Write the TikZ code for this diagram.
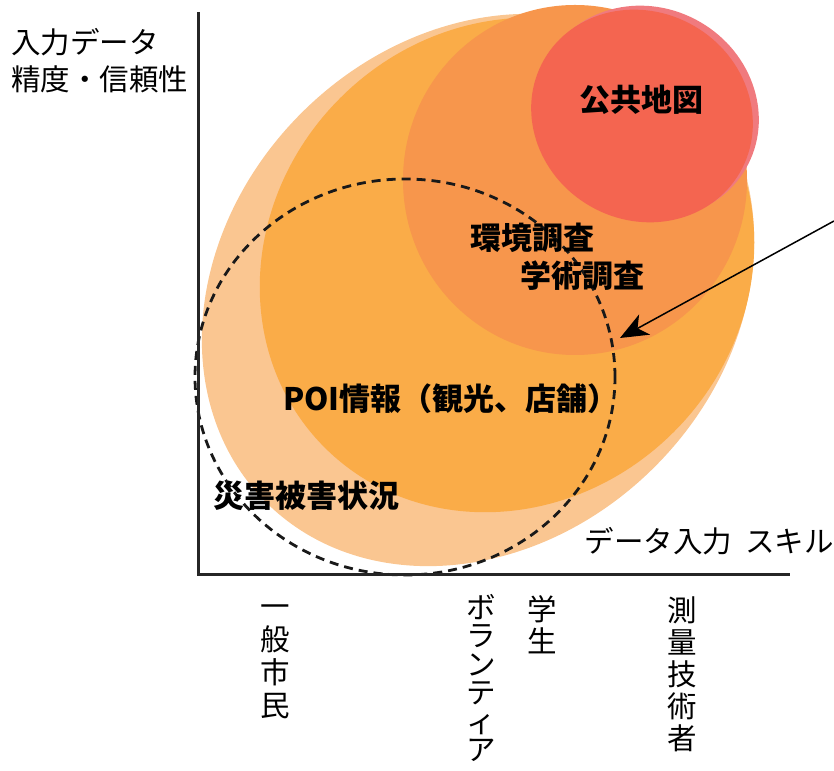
\documentclass[tikz,border=0pt]{standalone}
\usepackage{fontspec}
\setmainfont{Noto Sans CJK JP}
\usetikzlibrary{arrows.meta}

\definecolor{peach}{RGB}{250,198,145}
\definecolor{amber}{RGB}{250,172,72}
\definecolor{tangerine}{RGB}{247,150,76}
\definecolor{vermilion}{RGB}{244,101,80}
\definecolor{rose}{RGB}{240,122,126}

\begin{document}
\begin{tikzpicture}[
    x=1pt, y=1pt,
    zone/.style={font=\bfseries\fontsize{31}{31}\selectfont, inner sep=0pt},
    axislabel/.style={font=\fontsize{29.5}{37}\selectfont, inner sep=0pt},
    vlabel/.style={inner sep=0pt, align=center, anchor=north, font=\fontsize{29.5}{32}\selectfont},
    axisline/.style={line width=3pt, draw=black!85},
    reach/.style={draw=black!90, line width=2.8pt, dash pattern=on 9pt off 6pt},
    pointer/.style={-{Stealth[length=28pt, width=23pt, inset=8pt]}, line width=1.5pt}
  ]
    \useasboundingbox (0,0) rectangle (834,770);

    % nested zones, widest first
    \fill[peach] (478,480) ellipse [x radius=300, y radius=250, rotate=45];
    \fill[amber] (507,505) ellipse [x radius=258, y radius=236, rotate=45];
    \fill[tangerine] (575,590) ellipse [x radius=172, y radius=175];
    \fill[rose] (648,658) ellipse [x radius=113, y radius=104, rotate=-30];
    \fill[vermilion] (642,654) ellipse [x radius=113, y radius=104, rotate=-30];

    \draw[reach] (405,393) ellipse [x radius=210, y radius=198];

    % axes
    \coordinate (ytop) at (198,758);
    \coordinate (xend) at (790,195);
    \draw[axisline] (ytop) |- (xend);

    \node[zone] (kokyo) at (641,670) {公共地図};
    \node[zone] (kankyo) at (532,532) {環境調査};
    \node[zone] (gakujutsu) at (582,494) {学術調査};
    \node[zone] (poi) at (451,371) {POI情報（観光、店舗）};
    \node[zone] (saigai) at (306,274) {災害被害状況};

    \node[axislabel, align=left, anchor=north west] (accuracy) at (11,742) {入力データ\\精度・信頼性};
    \node[axislabel, anchor=east] (skill) at (834,229) {データ入力\hspace{0.45em}スキル};

    \node[vlabel, font=\fontsize{29.5}{33}\selectfont] (citizen) at (275,165) {一\\般\\市\\民};
    \node[vlabel, font=\fontsize{29.5}{28.5}\selectfont] (volunteer) at (481,176) {ボ\\ラ\\ン\\テ\\ィ\\ア};
    \node[vlabel] (student) at (542,175) {学\\生};
    \node[vlabel] (surveyor) at (682,173) {測\\量\\技\\術\\者};

    % arrow pointing into the overlap
    \coordinate (tail) at (834,549);
    \coordinate (tip) at (620,432);
    \draw[pointer] (tail) -- (tip);
  \end{tikzpicture}
\end{document}
